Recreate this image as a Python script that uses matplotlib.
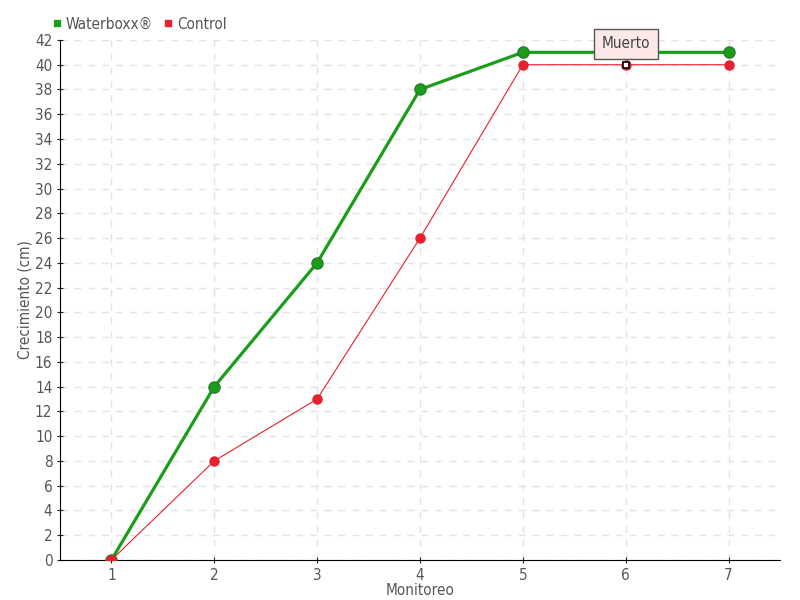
import matplotlib
matplotlib.use('Agg')
import matplotlib.pyplot as plt
from matplotlib.lines import Line2D

plt.rcParams['font.family'] = ['DejaVu Sans']
plt.rcParams['font.stretch'] = 'condensed'

monitoreo = [1, 2, 3, 4, 5, 6, 7]
waterboxx = [0, 14, 24, 38, 41, 41, 41]
control = [0, 8, 13, 26, 40, 40, 40]
muerto_idx = 5
y_ticks = list(range(0, 43, 2))

GREEN = '#1a9e1a'
RED = '#e8202e'
TXT = '#555555'


def main():
    fig = plt.figure(figsize=(8, 6), dpi=100)
    ax = fig.add_axes([0.075, 0.0667, 0.9, 0.8667])

    ax.plot(monitoreo, waterboxx, color=GREEN, lw=2.3, marker='o', ms=8,
            markeredgecolor='#2a7a2a', zorder=3)
    ax.plot(monitoreo, control, color=RED, lw=0.8, marker='o', ms=6.5,
            markeredgecolor=RED, zorder=4)
    # highlighted point under the tooltip
    ax.plot(monitoreo[muerto_idx], control[muerto_idx], marker='s', ms=4.5,
            markerfacecolor='white', markeredgecolor='black', mew=1.2, zorder=6)
    ax.annotate('Muerto', (monitoreo[muerto_idx], control[muerto_idx]),
                xytext=(0, 15), textcoords='offset points', ha='center', va='center',
                fontsize=11, color='#444444',
                bbox=dict(boxstyle='square,pad=0.5', fc='#fde8e8', ec='#555555', lw=1),
                zorder=7)

    ax.set_xlim(0.5, 7.5)
    ax.set_ylim(0, 42)
    ax.set_xticks(monitoreo)
    ax.set_yticks(y_ticks)
    ax.tick_params(colors='#222222', labelcolor=TXT, labelsize=11, length=4,
                   direction='inout')
    ax.grid(True, color='#e3e3e3', linestyle=(0, (5, 5)), lw=1)
    ax.set_axisbelow(True)
    for s in ['top', 'right']:
        ax.spines[s].set_visible(False)
    ax.set_xlabel('Monitoreo', color=TXT, fontsize=11, labelpad=0)
    ax.set_ylabel('Crecimiento (cm)', color=TXT, fontsize=11, labelpad=2)

    handles = [Line2D([], [], ls='', marker='s', ms=5, color=GREEN),
               Line2D([], [], ls='', marker='s', ms=5, color=RED)]
    fig.legend(handles, ['Waterboxx®', 'Control'], loc='upper left',
               bbox_to_anchor=(0.048, 0.995), ncol=2, frameon=False, fontsize=11,
               handlelength=0.6, handletextpad=0.3, columnspacing=0.7,
               labelcolor=TXT)

    fig.savefig('out.png', dpi=100)


if __name__ == '__main__':
    main()
